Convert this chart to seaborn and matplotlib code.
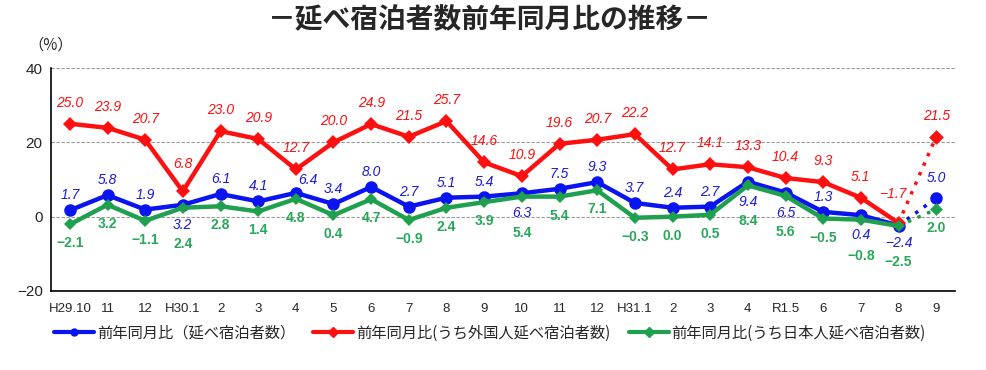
import matplotlib
matplotlib.use("Agg")
import matplotlib.pyplot as plt
import seaborn as sns
import pandas as pd
import numpy as np

months = ["H29.10", "11", "12", "H30.1", "2", "3", "4", "5", "6", "7", "8", "9",
          "10", "11", "12", "H31.1", "2", "3", "4", "R1.5", "6", "7", "8", "9"]
total = [1.7, 5.8, 1.9, 3.2, 6.1, 4.1, 6.4, 3.4, 8.0, 2.7, 5.1, 5.4,
         6.3, 7.5, 9.3, 3.7, 2.4, 2.7, 9.4, 6.5, 1.3, 0.4, -2.4, 5.0]
foreign = [25.0, 23.9, 20.7, 6.8, 23.0, 20.9, 12.7, 20.0, 24.9, 21.5, 25.7, 14.6,
           10.9, 19.6, 20.7, 22.2, 12.7, 14.1, 13.3, 10.4, 9.3, 5.1, -1.7, 21.5]
japanese = [-2.1, 3.2, -1.1, 2.4, 2.8, 1.4, 4.8, 0.4, 4.7, -0.9, 2.4, 3.9,
            5.4, 5.4, 7.1, -0.3, 0.0, 0.5, 8.4, 5.6, -0.5, -0.8, -2.5, 2.0]
series_names = ["前年同月比（延べ宿泊者数）",
                "前年同月比(うち外国人延べ宿泊者数)",
                "前年同月比(うち日本人延べ宿泊者数)"]
title = "－延べ宿泊者数前年同月比の推移－"

sns.set_theme(style="white")
plt.rcParams['font.family'] = ['Noto Sans CJK JP', 'DejaVu Sans']
plt.rcParams['axes.unicode_minus'] = True

BLUE = "#0a14f0"
RED = "#ff1010"
GREEN = "#1ea04e"
GREEN_T = "#2aa85a"

fig = plt.figure(figsize=(9.86, 3.70), dpi=100)
ax = fig.add_axes([51/986, 1-291/370, 904/986, 223/370])

n = len(months)
x = np.arange(n)
df = pd.DataFrame({"x": x, "total": total, "foreign": foreign, "japanese": japanese})
solid = df.iloc[:n-1]
dot = df.iloc[n-2:]

styles = [
    ("total", BLUE, "o", 9, 3.2),
    ("foreign", RED, "D", 7.5, 3.2),
    ("japanese", GREEN, "D", 6.5, 3.2),
]
handles = []
for (col, c, m, ms, lw), name in zip(styles, series_names):
    sns.lineplot(data=solid, x="x", y=col, ax=ax, color=c, lw=lw, marker=m,
                 markersize=ms, markeredgecolor=c, markeredgewidth=0, zorder=3,
                 legend=False)
    sns.lineplot(data=dot, x="x", y=col, ax=ax, color=c, lw=2.5,
                 linestyle=(0, (1, 2)), zorder=2, legend=False)
    sns.scatterplot(data=dot.iloc[[1]], x="x", y=col, ax=ax, color=c, marker=m,
                    s=ms**2, linewidth=0, zorder=3, legend=False)
    h, = ax.plot([], [], color=c, lw=3, marker=m, markersize=5)
    handles.append(h)

# Labels
def fmt(v):
    return f"{v:.1f}".replace("-", "\u2212")

blue_off = {i: (0, 15) for i in range(n)}
for i in [3, 12, 18, 19, 21]:
    blue_off[i] = (0, -20)
blue_off[22] = (0, -17)
blue_off[6] = (12, 13)
blue_off[23] = (0, 20)
red_off = {i: (0, 21) for i in range(n)}
red_off[3] = (0, 27)
red_off[22] = (-6, 29)
green_off = {i: (0, -19) for i in range(n)}
for i in [3, 12, 18, 19, 21, 22]:
    green_off[i] = (0, -36)

for i in range(n):
    ax.annotate(fmt(total[i]), (x[i], total[i]), xytext=blue_off[i],
                textcoords="offset pixels", ha="center", va="center",
                fontsize=10, color="#1a1ad8", style="italic",
                family="Liberation Sans")
    ax.annotate(fmt(foreign[i]), (x[i], foreign[i]), xytext=red_off[i],
                textcoords="offset pixels", ha="center", va="center",
                fontsize=10, color=RED, style="italic",
                family="Liberation Sans")
    ax.annotate(fmt(japanese[i]), (x[i], japanese[i]), xytext=green_off[i],
                textcoords="offset pixels", ha="center", va="center",
                fontsize=10, color=GREEN_T, fontweight="bold",
                family="Liberation Sans")

ax.set_xlim(-0.5, n - 0.5)
ax.set_ylim(-20, 40)
ax.set_yticks([-20, 0, 20, 40])
ax.set_yticklabels(["\u221220", "0", "20", "40"], family="Liberation Sans", fontsize=11)
ax.set_xticks(x)
ax.set_xticklabels(months, family="Liberation Sans", fontsize=9.5)
ax.set_xticks(np.arange(n + 1) - 0.5, minor=True)
ax.tick_params(axis="x", which="major", length=0, pad=9)
ax.tick_params(axis="x", which="minor", direction="in", length=4, width=0.8, color="#333333")
ax.tick_params(axis="y", length=0, pad=6)
ax.set_xlabel("")
ax.set_ylabel("")
for yv in [0, 20, 40]:
    ax.axhline(yv, color="#999999", lw=0.8, ls=(0, (3, 1.5)), zorder=1)
for s in ["top", "right"]:
    ax.spines[s].set_visible(False)
for s in ["left", "bottom"]:
    ax.spines[s].set_color("black")
    ax.spines[s].set_linewidth(1.2)

fig.text(490/986, 1-20/370, title, ha="center", va="center", fontsize=20,
         fontweight="bold")
fig.text(28/986, 1-45/370, "（%）", ha="left", va="center", fontsize=11)

fig.legend(handles=handles, labels=series_names, loc="center",
           bbox_to_anchor=(490/986, 1-333/370),
           ncol=3, frameon=False, fontsize=11, handlelength=2.6,
           handletextpad=0.2, columnspacing=1.2)

fig.savefig("out.png", dpi=100)
